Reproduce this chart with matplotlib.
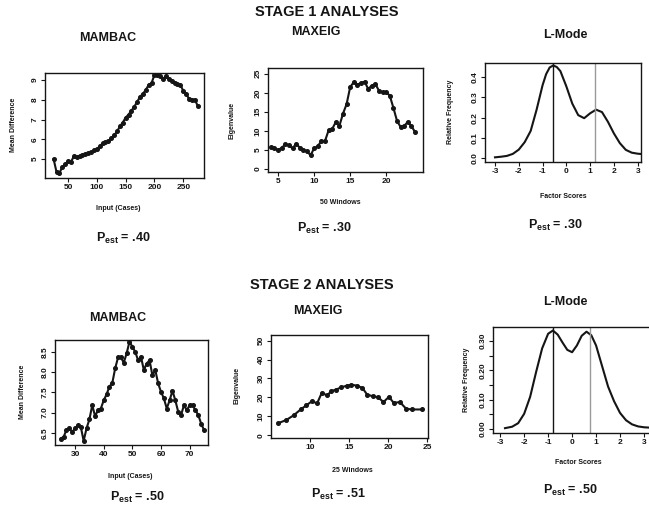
import matplotlib.pyplot as plt

plt.rcParams['font.family'] = ['Liberation Sans', 'DejaVu Sans']
plt.rcParams['mathtext.fontset'] = 'custom'
plt.rcParams['mathtext.bf'] = 'Liberation Sans:bold'
plt.rcParams['mathtext.rm'] = 'Liberation Sans'
plt.rcParams['axes.unicode_minus'] = False

# stage 1 - MAMBAC
mambac1_x = list(range(25, 280, 5))
mambac1_y = [5.0, 4.35, 4.3, 4.6, 4.75, 4.9, 4.85, 5.15, 5.1, 5.15,
             5.2, 5.25, 5.3, 5.35, 5.45, 5.5, 5.65, 5.8, 5.85, 5.9,
             6.05, 6.2, 6.4, 6.65, 6.85, 7.1, 7.25, 7.45, 7.65, 7.9,
             8.15, 8.3, 8.5, 8.75, 8.85, 9.25, 9.25, 9.2, 9.05, 9.2,
             9.05, 8.95, 8.85, 8.8, 8.75, 8.45, 8.3, 8.05, 8.0, 8.0, 7.7]

# stage 1 - MAXEIG
maxeig1_x = [4.0, 4.5, 5.0, 5.5, 6.0, 6.5, 7.0, 7.5, 8.0, 8.5, 9.0, 9.5,
             10.0, 10.5, 11.0, 11.5, 12.0, 12.5, 13.0, 13.5, 14.0, 14.5,
             15.0, 15.5, 16.0, 16.5, 17.0, 17.5, 18.0, 18.5, 19.0, 19.5,
             20.0, 20.5, 21.0, 21.5, 22.0, 22.5, 23.0, 23.5, 24.0]
maxeig1_y = [5.7, 5.4, 5.0, 5.5, 6.5, 6.2, 5.4, 6.6, 5.6, 5.1, 4.6, 3.6,
             5.4, 6.0, 7.3, 7.3, 10.1, 10.5, 12.3, 11.3, 14.5, 17.0,
             21.5, 22.8, 22.1, 22.6, 22.9, 21.0, 21.9, 22.3, 20.5, 20.1,
             20.2, 19.2, 16.0, 12.6, 11.0, 11.3, 12.4, 11.2, 9.7]

# stage 1 - L-Mode
lmode1_x = [-3.0, -2.75, -2.5, -2.25, -2.0, -1.75, -1.5, -1.25, -1.0, -0.85,
            -0.7, -0.55, -0.4, -0.25, 0.0, 0.25, 0.5, 0.75, 1.0, 1.25,
            1.5, 1.75, 2.0, 2.25, 2.5, 2.75, 3.0, 3.1]
lmode1_y = [0.005, 0.008, 0.012, 0.022, 0.043, 0.08, 0.135, 0.24, 0.36, 0.415,
            0.448, 0.458, 0.45, 0.43, 0.355, 0.27, 0.213, 0.198, 0.222, 0.24,
            0.228, 0.18, 0.123, 0.075, 0.042, 0.028, 0.023, 0.022]
lmode1_lines = [-0.57, 1.22]

# stage 2 - MAMBAC
mambac2_x = list(range(25, 76))
mambac2_y = [6.36, 6.40, 6.57, 6.61, 6.52, 6.61, 6.69, 6.65, 6.30, 6.61,
             6.83, 7.18, 6.91, 7.06, 7.10, 7.30, 7.45, 7.64, 7.73, 8.09,
             8.36, 8.36, 8.23, 8.46, 8.75, 8.62, 8.50, 8.29, 8.38, 8.05,
             8.21, 8.29, 7.92, 8.05, 7.72, 7.51, 7.35, 7.10, 7.30, 7.54,
             7.30, 7.02, 6.94, 7.18, 7.06, 7.18, 7.18, 7.06, 6.94, 6.73, 6.57]

# stage 2 - MAXEIG
maxeig2_x = [5.9, 6.95, 7.9, 8.8, 9.5, 10.25, 10.9, 11.5, 12.2, 12.7, 13.3,
             14.0, 14.7, 15.3, 16.0, 16.7, 17.3, 18.0, 18.7, 19.4, 20.1,
             20.7, 21.5, 22.3, 23.05, 24.3]
maxeig2_y = [6.3, 8.0, 10.5, 13.6, 15.7, 18.0, 16.8, 22.4, 21.0, 23.3, 24.1,
             25.3, 26.2, 26.7, 26.2, 25.0, 21.5, 20.6, 20.1, 17.5, 20.3,
             17.1, 17.5, 14.0, 13.6, 13.6]

# stage 2 - L-Mode
lmode2_x = [-2.8, -2.5, -2.25, -2.0, -1.75, -1.5, -1.25, -1.0, -0.8, -0.6,
            -0.4, -0.2, 0.0, 0.2, 0.4, 0.6, 0.8, 1.0, 1.25, 1.5,
            1.75, 2.0, 2.25, 2.5, 2.75, 3.0, 3.2]
lmode2_y = [0.003, 0.008, 0.02, 0.052, 0.11, 0.195, 0.275, 0.325, 0.336, 0.322,
            0.295, 0.27, 0.262, 0.285, 0.318, 0.332, 0.32, 0.285, 0.215, 0.145,
            0.095, 0.055, 0.03, 0.016, 0.009, 0.006, 0.005]
lmode2_lines = [-0.78, 0.75]

p_est = ['.40', '.30', '.30', '.50', '.51', '.50']

W, H = 649, 509
fig = plt.figure(figsize=(W / 100, H / 100), dpi=100)
ink = '#151515'


def box(l, t, r, b):
    return [l / W, 1 - b / H, (r - l) / W, (b - t) / H]


def put(x, y, s, **kw):
    fig.text(x / W, 1 - y / H, s, ha='center', va='center', color=ink, **kw)


def style(ax, xticks, yticks, ylabels=None):
    ax.set_xticks(xticks)
    ax.set_yticks(yticks)
    if ylabels is not None:
        ax.set_yticklabels(ylabels)
    ax.tick_params(direction='out', length=3, width=0.8, labelsize=6,
                   pad=1.5, colors=ink)
    ax.tick_params(axis='y', labelrotation=90)
    for lbl in ax.get_yticklabels() + ax.get_xticklabels():
        lbl.set_fontweight('bold')
    for lbl in ax.get_yticklabels():
        lbl.set_va('center')
    for s in ax.spines.values():
        s.set_linewidth(1.0)
        s.set_color(ink)


def trace(ax, x, y):
    ax.plot(x, y, color=ink, lw=1.5, marker='o', ms=2.6)


# panels
ax1 = fig.add_axes(box(45, 73, 204, 178))
trace(ax1, mambac1_x, mambac1_y)
ax1.set_xlim(10, 286)
ax1.set_ylim(4.05, 9.35)
style(ax1, [50, 100, 150, 200, 250], [5, 6, 7, 8, 9])

ax2 = fig.add_axes(box(268, 68, 423, 172))
trace(ax2, maxeig1_x, maxeig1_y)
ax2.set_xlim(3.6, 25.1)
ax2.set_ylim(-0.8, 26.5)
style(ax2, [5, 10, 15, 20], [0, 5, 10, 15, 20, 25])

ax3 = fig.add_axes(box(485, 63, 641, 162))
ax3.plot(lmode1_x, lmode1_y, color=ink, lw=1.5)
ax3.axvline(lmode1_lines[0], color=ink, lw=1.0)
ax3.axvline(lmode1_lines[1], color='#9a9a9a', lw=1.0)
ax3.set_xlim(-3.42, 3.14)
ax3.set_ylim(-0.018, 0.47)
style(ax3, [-3, -2, -1, 0, 1, 2, 3], [0.0, 0.1, 0.2, 0.3, 0.4],
      ['0.0', '0.1', '0.2', '0.3', '0.4'])

ax4 = fig.add_axes(box(55, 340, 208, 445))
trace(ax4, mambac2_x, mambac2_y)
ax4.set_xlim(23.0, 76.4)
ax4.set_ylim(6.2, 8.79)
style(ax4, [30, 40, 50, 60, 70], [6.5, 7.0, 7.5, 8.0, 8.5],
      ['6.5', '7.0', '7.5', '8.0', '8.5'])

ax5 = fig.add_axes(box(271, 335, 428, 438))
trace(ax5, maxeig2_x, maxeig2_y)
ax5.set_xlim(5.0, 25.1)
ax5.set_ylim(-1.5, 53)
style(ax5, [10, 15, 20, 25], [0, 10, 20, 30, 40, 50])

ax6 = fig.add_axes(box(493, 327, 650, 433))
ax6.plot(lmode2_x, lmode2_y, color=ink, lw=1.5)
ax6.axvline(lmode2_lines[0], color=ink, lw=1.0)
ax6.axvline(lmode2_lines[1], color='#9a9a9a', lw=1.0)
ax6.set_xlim(-3.3, 3.25)
ax6.set_ylim(-0.0135, 0.348)
style(ax6, [-3, -2, -1, 0, 1, 2, 3],
      [0.0, 0.05, 0.10, 0.15, 0.20, 0.25, 0.30],
      ['0.00', '', '0.10', '', '0.20', '', '0.30'])

# headings
put(327, 12, 'STAGE 1 ANALYSES', fontsize=10.5, fontweight='bold')
put(322, 285, 'STAGE 2 ANALYSES', fontsize=10.5, fontweight='bold')
for (x, y, s) in [(108, 38, 'MAMBAC'), (316, 32, 'MAXEIG'), (565, 35, 'L-Mode'),
                  (118, 318, 'MAMBAC'), (318, 311, 'MAXEIG'), (565, 302, 'L-Mode')]:
    put(x, y, s, fontsize=9, fontweight='bold')

# axis labels
lab = dict(fontsize=5, fontweight='bold')
put(118, 209, 'Input (Cases)', **lab)
put(340, 203, '50 Windows', **lab)
put(563, 197, 'Factor Scores', **lab)
put(130, 476, 'Input (Cases)', **lab)
put(352, 470, '25 Windows', **lab)
put(578, 463, 'Factor Scores', **lab)
put(14, 125, 'Mean Difference', rotation=90, **lab)
put(232, 120, 'Eigenvalue', rotation=90, **lab)
put(451, 112, 'Relative Frequency', rotation=90, **lab)
put(22, 392, 'Mean Difference', rotation=90, **lab)
put(237, 385, 'Eigenvalue', rotation=90, **lab)
put(466, 380, 'Relative Frequency', rotation=90, **lab)

# P_est values
for (x, y), v in zip([(123, 238), (324, 228), (555, 225),
                      (137, 497), (338, 494), (570, 490)], p_est):
    put(x, y, r'$\mathbf{P}_{\mathbf{est}}$ = ' + v, fontsize=9,
        fontweight='bold')

fig.savefig('out.png', dpi=100)
